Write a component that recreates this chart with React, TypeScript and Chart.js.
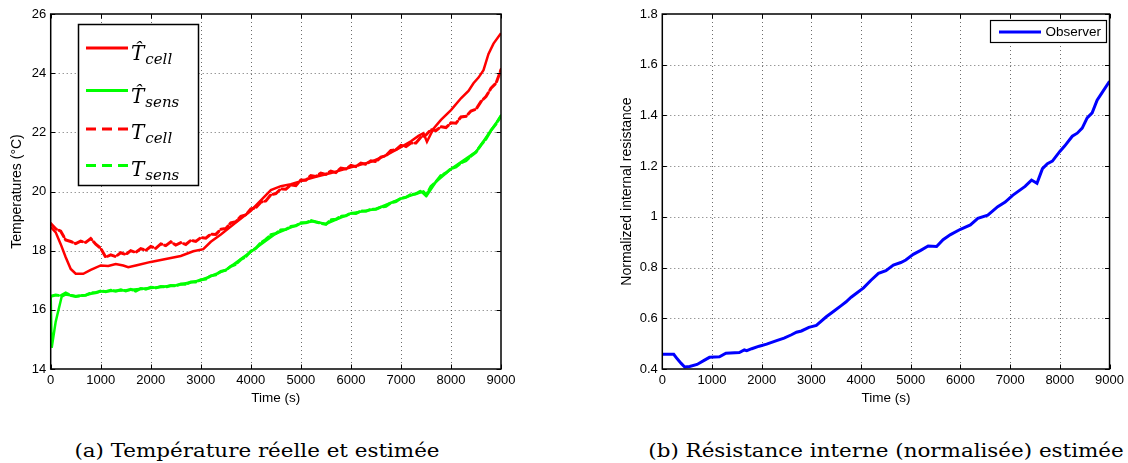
import React, { useEffect, useRef } from "react";
import { Chart, registerables } from "chart.js";

Chart.register(...registerables);

// ---------- DATA ----------
const timeTicks = [0, 1000, 2000, 3000, 4000, 5000, 6000, 7000, 8000, 9000];
const tempTicks = [14, 16, 18, 20, 22, 24, 26];
const resTicks = [0.4, 0.6, 0.8, 1.0, 1.2, 1.4, 1.6, 1.8];

const measTime = [
  0, 100, 200, 300, 400, 500, 600, 700, 800, 900,
  1000, 1100, 1200, 1300, 1400, 1500, 1600, 1700, 1800, 1900,
  2000, 2100, 2200, 2300, 2400, 2500, 2600, 2700, 2800, 2900,
  3000, 3100, 3200, 3300, 3400, 3500, 3600, 3700, 3800, 3900,
  4000, 4100, 4200, 4300, 4400, 4500, 4600, 4700, 4800, 4900,
  5000, 5100, 5200, 5300, 5400, 5500, 5600, 5700, 5800, 5900,
  6000, 6100, 6200, 6300, 6400, 6500, 6600, 6700, 6800, 6900,
  7000, 7100, 7200, 7300, 7400, 7500, 7600, 7700, 7800, 7900,
  8000, 8100, 8200, 8300, 8400, 8500, 8600, 8700, 8800, 8900,
  9000,
];

const tCellMeas = [
  18.92, 18.74, 18.66, 18.36, 18.31, 18.24, 18.32, 18.28, 18.41, 18.22,
  18.08, 17.78, 17.86, 17.80, 17.93, 17.87, 18.00, 17.94, 18.07, 18.01,
  18.14, 18.08, 18.23, 18.17, 18.30, 18.19, 18.27, 18.21, 18.35, 18.31,
  18.44, 18.42, 18.56, 18.55, 18.72, 18.75, 18.94, 18.98, 19.16, 19.21,
  19.41, 19.45, 19.64, 19.68, 19.89, 19.93, 20.09, 20.08, 20.22, 20.20,
  20.39, 20.38, 20.54, 20.51, 20.62, 20.58, 20.69, 20.64, 20.79, 20.76,
  20.88, 20.84, 20.96, 20.92, 21.04, 21.01, 21.16, 21.21, 21.39, 21.41,
  21.56, 21.52, 21.64, 21.64, 21.84, 21.91, 22.09, 22.06, 22.19, 22.16,
  22.32, 22.31, 22.52, 22.54, 22.72, 22.78, 23.04, 23.21, 23.49, 23.66,
  24.12,
];

const tSensMeas = [
  16.46, 16.50, 16.48, 16.57, 16.49, 16.45, 16.48, 16.49, 16.57, 16.58,
  16.64, 16.61, 16.66, 16.63, 16.68, 16.64, 16.69, 16.63, 16.72, 16.70,
  16.76, 16.74, 16.79, 16.77, 16.82, 16.81, 16.87, 16.86, 16.94, 16.94,
  17.02, 17.04, 17.15, 17.18, 17.30, 17.34, 17.47, 17.54, 17.70, 17.80,
  17.98, 18.08, 18.27, 18.38, 18.54, 18.58, 18.70, 18.72, 18.82, 18.84,
  18.94, 18.94, 19.02, 18.97, 18.93, 18.89, 19.04, 19.06, 19.16, 19.18,
  19.27, 19.26, 19.34, 19.33, 19.40, 19.40, 19.47, 19.50, 19.62, 19.66,
  19.77, 19.80, 19.90, 19.92, 20.02, 19.86, 20.17, 20.33, 20.54, 20.63,
  20.77, 20.83, 20.97, 21.04, 21.20, 21.33, 21.57, 21.78, 22.07, 22.28,
  22.56,
];

const tCellEstTime = [
  0, 100, 200, 300, 400, 500, 650, 800, 1000, 1150, 1300, 1450, 1550, 1700,
  2000, 2300, 2600, 2850, 3050, 3200, 3400, 3700, 4000, 4200, 4400, 4600,
  4800, 5000, 5300, 5600, 6000, 6400, 6700, 7000, 7200, 7350, 7450, 7520,
  7650, 7800, 8000, 8200, 8350, 8450, 8550, 8650, 8750, 8850, 9000,
];
const tCellEst = [
  18.80, 18.62, 18.22, 17.78, 17.38, 17.22, 17.22, 17.35, 17.50, 17.48, 17.55, 17.50, 17.44, 17.50,
  17.62, 17.72, 17.82, 17.98, 18.05, 18.30, 18.55, 18.95, 19.35, 19.70, 20.05, 20.18,
  20.25, 20.35, 20.50, 20.62, 20.82, 21.00, 21.22, 21.50, 21.70, 21.88, 21.97, 21.68,
  22.12, 22.42, 22.75, 23.15, 23.40, 23.66, 23.85, 24.10, 24.65, 25.00, 25.35,
];

const tSensEstTime = [
  0, 20, 100, 220, 300, 500, 700, 1000, 1500, 2000, 2500, 3000, 3500, 4000,
  4500, 5000, 5250, 5500, 6000, 6500, 7000, 7450, 7520, 7700, 8000, 8500, 8800, 9000,
];
const tSensEst = [
  16.45, 14.72, 15.60, 16.45, 16.52, 16.46, 16.50, 16.62, 16.66, 16.74, 16.83, 17.00, 17.35, 17.96,
  18.58, 18.92, 18.99, 18.90, 19.26, 19.41, 19.76, 20.00, 19.87, 20.33, 20.76, 21.34, 22.06, 22.55,
];

const resTime = [
  0, 230, 300, 380, 450, 550, 700, 850, 950, 1150, 1280, 1550, 1650, 1700, 1800,
  1950, 2100, 2300, 2450, 2600, 2700, 2800, 2950, 3100, 3300, 3450, 3600, 3700, 3800, 3900,
  4050, 4200, 4350, 4500, 4650, 4800, 4900, 5050, 5200, 5350, 5520, 5650, 5800, 6000, 6200,
  6350, 6550, 6750, 6900, 7050, 7300, 7430, 7540, 7650, 7750, 7850, 8000, 8100, 8250, 8350,
  8450, 8550, 8650, 8750, 8850, 9000,
];
const resObserver = [
  0.458, 0.458, 0.440, 0.422, 0.408, 0.410, 0.418, 0.435, 0.446, 0.448, 0.462, 0.465, 0.475, 0.472, 0.480,
  0.490, 0.498, 0.512, 0.522, 0.535, 0.545, 0.550, 0.564, 0.572, 0.606, 0.628, 0.650, 0.665, 0.683, 0.698,
  0.720, 0.750, 0.777, 0.788, 0.810, 0.820, 0.830, 0.852, 0.868, 0.885, 0.883, 0.910, 0.930, 0.951, 0.968,
  0.994, 1.007, 1.040, 1.058, 1.085, 1.120, 1.145, 1.132, 1.190, 1.210, 1.220, 1.258, 1.280, 1.318, 1.330,
  1.350, 1.390, 1.410, 1.460, 1.490, 1.535,
];

// ---------- HELPERS ----------
const pts = (xs: number[], ys: number[]) => xs.map((x, i) => ({ x, y: ys[i] }));
const SANS = "'Liberation Sans', Arial, Helvetica, sans-serif";
const RED = "#ff0000";
const GREEN = "#00ff00";
const BLUE = "#0000ff";

const matlabAxes = {
  id: "matlabAxes",
  beforeDatasetsDraw(chart: any) {
    const { ctx, chartArea: a, scales } = chart;
    const x = scales.x;
    const y = scales.y;
    ctx.save();
    ctx.strokeStyle = "rgba(60,60,60,0.75)";
    ctx.lineWidth = 1;
    ctx.setLineDash([1, 3]);
    x.ticks.forEach((t: any) => {
      const px = Math.round(x.getPixelForValue(t.value)) + 0.5;
      if (px <= a.left + 2 || px >= a.right - 2) return;
      ctx.beginPath();
      ctx.moveTo(px, a.top);
      ctx.lineTo(px, a.bottom);
      ctx.stroke();
    });
    y.ticks.forEach((t: any) => {
      const py = Math.round(y.getPixelForValue(t.value)) + 0.5;
      if (py <= a.top + 2 || py >= a.bottom - 2) return;
      ctx.beginPath();
      ctx.moveTo(a.left, py);
      ctx.lineTo(a.right, py);
      ctx.stroke();
    });
    ctx.restore();
  },
  afterDatasetsDraw(chart: any) {
    const { ctx, chartArea: a, scales } = chart;
    const x = scales.x;
    const y = scales.y;
    ctx.save();
    ctx.setLineDash([]);
    ctx.strokeStyle = "#000";
    ctx.lineWidth = 1;
    const L = 4.5;
    x.ticks.forEach((t: any) => {
      const px = Math.round(x.getPixelForValue(t.value)) + 0.5;
      ctx.beginPath();
      ctx.moveTo(px, a.bottom);
      ctx.lineTo(px, a.bottom - L);
      ctx.moveTo(px, a.top);
      ctx.lineTo(px, a.top + L);
      ctx.stroke();
    });
    y.ticks.forEach((t: any) => {
      const py = Math.round(y.getPixelForValue(t.value)) + 0.5;
      ctx.beginPath();
      ctx.moveTo(a.left, py);
      ctx.lineTo(a.left + L, py);
      ctx.moveTo(a.right, py);
      ctx.lineTo(a.right - L, py);
      ctx.stroke();
    });
    ctx.lineWidth = 1.5;
    ctx.strokeRect(a.left, a.top, a.right - a.left, a.bottom - a.top);
    ctx.restore();
  },
};

const tempLegend = {
  id: "tempLegend",
  afterDraw(chart: any) {
    const ctx = chart.ctx;
    ctx.save();
    ctx.fillStyle = "#fff";
    ctx.fillRect(78.5, 24.5, 120, 161);
    ctx.strokeStyle = "#000";
    ctx.lineWidth = 1.5;
    ctx.setLineDash([]);
    ctx.strokeRect(78.5, 24.5, 120, 161);
    const rowY = [48, 90.5, 129, 165.5];
    chart.data.datasets.forEach((ds: any, i: number) => {
      const yy = rowY[i];
      ctx.strokeStyle = ds.borderColor;
      ctx.lineWidth = 3;
      ctx.lineCap = "butt";
      ctx.setLineDash(ds.legendDash || []);
      ctx.beginPath();
      ctx.moveTo(86, yy);
      ctx.lineTo(128, yy);
      ctx.stroke();
      ctx.setLineDash([]);
      ctx.fillStyle = "#000";
      ctx.textBaseline = "alphabetic";
      ctx.textAlign = "left";
      ctx.font = "italic 20px 'DejaVu Serif'";
      const base = yy + (ds.mathHat ? 12 : 10);
      ctx.fillText(ds.mathMain, 131, base);
      const w = ctx.measureText("T").width;
      ctx.font = "italic 15px 'DejaVu Serif'";
      ctx.fillText(ds.mathSub, 131 + w + 1, base + 4);
    });
    ctx.restore();
  },
};

const resLegend = {
  id: "resLegend",
  afterDraw(chart: any) {
    const ctx = chart.ctx;
    const ds = chart.data.datasets[0];
    ctx.save();
    ctx.fillStyle = "#fff";
    ctx.fillRect(430.5, 20.5, 116, 22);
    ctx.strokeStyle = "#000";
    ctx.lineWidth = 1.2;
    ctx.strokeRect(430.5, 20.5, 116, 22);
    ctx.strokeStyle = ds.borderColor;
    ctx.lineWidth = 3;
    ctx.beginPath();
    ctx.moveTo(439, 32);
    ctx.lineTo(481, 32);
    ctx.stroke();
    ctx.fillStyle = "#000";
    ctx.font = `13.5px ${SANS}`;
    ctx.textBaseline = "middle";
    ctx.textAlign = "left";
    ctx.fillText(ds.label, 485.5, 32.5);
    ctx.restore();
  },
};

const tickFont = { family: SANS, size: 13 };
const titleFont = { family: SANS, size: 14 };

function xScale() {
  return {
    type: "linear",
    min: 0,
    max: 9000,
    afterBuildTicks: (s: any) => {
      s.ticks = timeTicks.map((v) => ({ value: v }));
    },
    afterFit: (s: any) => {
      s.height = 51;
    },
    ticks: {
      font: tickFont,
      color: "#000",
      padding: 4,
      maxRotation: 0,
      autoSkip: false,
      callback: (v: any) => String(v),
    },
    grid: { display: false, drawTicks: false },
    border: { display: false },
    title: {
      display: true,
      text: "Time (s)",
      font: { family: SANS, size: 13.5 },
      color: "#000",
      padding: { top: 0, bottom: 14 },
    },
  };
}

export default function App() {
  const c1 = useRef<HTMLCanvasElement>(null);
  const c2 = useRef<HTMLCanvasElement>(null);

  useEffect(() => {
    const chart1 = new Chart(c1.current as HTMLCanvasElement, {
      type: "line",
      data: {
        datasets: [
          {
            label: "T\u0302cell",
            mathMain: "T\u0302",
            mathSub: "cell",
            mathHat: true,
            data: pts(tCellEstTime, tCellEst),
            borderColor: RED,
            borderWidth: 2.5,
            pointRadius: 0,
            fill: false,
            order: 4,
          },
          {
            label: "T\u0302sens",
            mathMain: "T\u0302",
            mathSub: "sens",
            mathHat: true,
            data: pts(tSensEstTime, tSensEst),
            borderColor: GREEN,
            borderWidth: 2.5,
            pointRadius: 0,
            fill: false,
            order: 3,
          },
          {
            label: "Tcell",
            mathMain: "T",
            mathSub: "cell",
            mathHat: false,
            legendDash: [10, 6],
            data: pts(measTime, tCellMeas),
            borderColor: RED,
            borderWidth: 3,
            borderDash: [8, 3],
            borderCapStyle: "round",
            pointRadius: 0,
            fill: false,
            order: 2,
          },
          {
            label: "Tsens",
            mathMain: "T",
            mathSub: "sens",
            mathHat: false,
            legendDash: [10, 6],
            data: pts(measTime, tSensMeas),
            borderColor: GREEN,
            borderWidth: 3,
            borderDash: [8, 3],
            borderCapStyle: "round",
            pointRadius: 0,
            fill: false,
            order: 1,
          },
        ] as any,
      },
      options: {
        responsive: false,
        animation: false,
        layout: { padding: { left: 0, right: 59, top: 14, bottom: 0 } },
        plugins: { legend: { display: false }, tooltip: { enabled: false } },
        scales: {
          x: xScale() as any,
          y: {
            type: "linear",
            min: 14,
            max: 26,
            afterBuildTicks: (s: any) => {
              s.ticks = tempTicks.map((v) => ({ value: v }));
            },
            afterFit: (s: any) => {
              s.width = 50.7;
            },
            ticks: {
              font: tickFont,
              color: "#000",
              padding: 4.5,
              callback: (v: any) => String(v),
            },
            grid: { display: false, drawTicks: false },
            border: { display: false },
            title: {
              display: true,
              text: "Temperatures (°C)",
              font: titleFont,
              color: "#000",
              padding: { top: 9, bottom: 0 },
            },
          },
        },
      },
      plugins: [matlabAxes, tempLegend],
    } as any);

    const chart2 = new Chart(c2.current as HTMLCanvasElement, {
      type: "line",
      data: {
        datasets: [
          {
            label: "Observer",
            data: pts(resTime, resObserver),
            borderColor: BLUE,
            borderWidth: 3,
            pointRadius: 0,
            fill: false,
          },
        ],
      },
      options: {
        responsive: false,
        animation: false,
        layout: { padding: { left: 50, right: 15.7, top: 14, bottom: 0 } },
        plugins: { legend: { display: false }, tooltip: { enabled: false } },
        scales: {
          x: xScale() as any,
          y: {
            type: "linear",
            min: 0.4,
            max: 1.8,
            afterBuildTicks: (s: any) => {
              s.ticks = resTicks.map((v) => ({ value: v }));
            },
            afterFit: (s: any) => {
              s.width = 52.3;
            },
            ticks: {
              font: tickFont,
              color: "#000",
              padding: 4.5,
              callback: (v: any) => String(Number(Number(v).toFixed(1))),
            },
            grid: { display: false, drawTicks: false },
            border: { display: false },
            title: {
              display: true,
              text: "Normalized internal resistance",
              font: titleFont,
              color: "#000",
              padding: { top: 8.6, bottom: 0 },
            },
          },
        },
      },
      plugins: [matlabAxes, resLegend],
    } as any);

    return () => {
      chart1.destroy();
      chart2.destroy();
    };
  }, []);

  const captionStyle: React.CSSProperties = {
    position: "absolute",
    top: 440.8,
    width: 800,
    textAlign: "center",
    fontFamily: "'DejaVu Serif', serif",
    fontSize: 18,
    lineHeight: "20px",
    color: "#000",
    whiteSpace: "nowrap",
    transform: "scaleX(1.19)",
    transformOrigin: "center",
  };

  return (
    <div
      style={{
        position: "absolute",
        left: 0,
        top: 0,
        width: 1128,
        height: 463,
        background: "#fff",
        overflow: "hidden",
      }}
    >
      <canvas
        ref={c1}
        width={560}
        height={420}
        style={{ position: "absolute", left: 0, top: 0, width: 560, height: 420 }}
      />
      <canvas
        ref={c2}
        width={568}
        height={420}
        style={{ position: "absolute", left: 560, top: 0, width: 568, height: 420 }}
      />
      <div style={{ ...captionStyle, left: 257 - 400 }}>(a) Température réelle et estimée</div>
      <div style={{ ...captionStyle, left: 886 - 400 }}>(b) Résistance interne (normalisée) estimée</div>
    </div>
  );
}
